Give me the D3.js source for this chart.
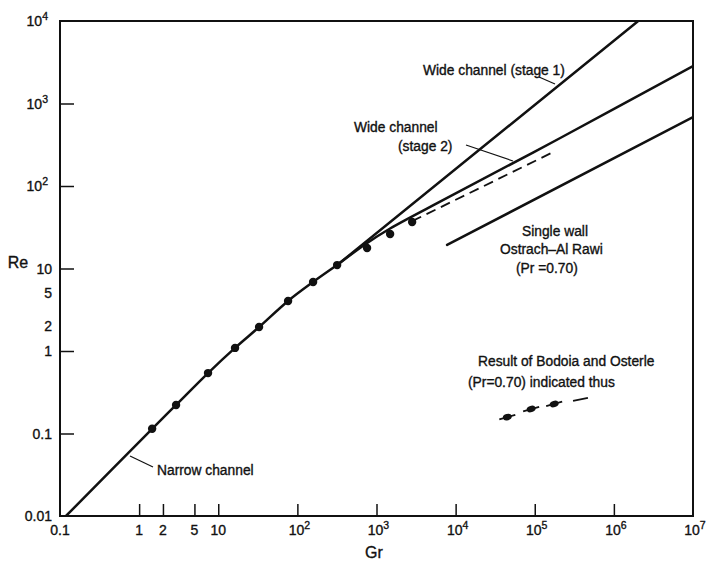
<!DOCTYPE html>
<html>
<head>
<meta charset="utf-8">
<script src="https://cdn.jsdelivr.net/npm/d3@7"></script>
<style>
  body { margin: 0; background: #fff; }
  text { font-family: "Liberation Sans", Arial, sans-serif; fill: #111; stroke: #111; stroke-width: 0.35px; }
</style>
</head>
<body>
<div id="chart"></div>
<script>
// measured points (Gr, Re)
const dotGr = [1.46, 2.93, 7.43, 16.3, 32.8, 76.3, 158, 318, 760, 1486, 2820];
const dotRe = [0.114, 0.222, 0.54, 1.09, 1.95, 4.04, 6.86, 11.0, 17.7, 26.2, 36.6];

// narrow channel curve
const narrowGr = [0.119, 1.46, 2.93, 7.43, 16.3, 32.8, 76.3, 158, 318];
const narrowRe = [0.01, 0.114, 0.222, 0.54, 1.09, 1.95, 4.04, 6.86, 11.0];

// wide channel stage 1 and stage 2
const stage1Gr = [318, 2.03e6];
const stage1Re = [11.0, 1e4];
const stage2Gr = [318, 700, 1486, 7820, 2.1e5, 1e7];
const stage2Re = [11.0, 19.3, 30.5, 71.6, 382, 2850];

// dashed extension past the points
const dashGr = [2820, 1.7e5];
const dashRe = [37.5, 257];

// single wall, Ostrach - Al Rawi
const wallGr = [7800, 1e7];
const wallRe = [19.3, 685];

// Bodoia and Osterle sample
const bodoGr = [4.5e4, 9e4, 1.76e5];
const bodoRe = [0.158, 0.198, 0.228];
const bodoTailGr = [3.05e5, 4.7e5];
const bodoTailRe = [0.248, 0.27];

// axis ticks
const xTicks = [1, 2, 5, 10, 1e2, 1e3, 1e4, 1e5, 1e6];
const xLabels = [[0.1, "0.1"], [1, "1"], [2, "2"], [5, "5"], [10, "10"],
  [1e2, "10", "2"], [1e3, "10", "3"], [1e4, "10", "4"], [1e5, "10", "5"], [1e6, "10", "6"], [1e7, "10", "7"]];
const yTicks = [0.1, 1, 10, 1e2, 1e3];
const yLabels = [[0.01, "0.01"], [0.1, "0.1"], [1, "1"], [2, "2"], [5, "5"], [10, "10"],
  [1e2, "10", "2"], [1e3, "10", "3"], [1e4, "10", "4"]];

const W = 709, H = 561;
const svg = d3.select("#chart").append("svg").attr("width", W).attr("height", H);

const x = d3.scaleLog().domain([0.1, 1e7]).range([60, 693]);
const y = d3.scaleLog().domain([0.01, 1e4]).range([516, 21]);

svg.append("defs").append("clipPath").attr("id", "plot")
  .append("rect").attr("x", 60).attr("y", 21).attr("width", 633).attr("height", 495);

// frame
svg.append("rect").attr("x", 60).attr("y", 21).attr("width", 633).attr("height", 495)
  .attr("fill", "none").attr("stroke", "#111").attr("stroke-width", 2);

// inward ticks
const gx = svg.append("g").attr("transform", "translate(0,516)")
  .call(d3.axisBottom(x).tickValues(xTicks).tickSize(-12).tickFormat(""));
const gy = svg.append("g").attr("transform", "translate(60,0)")
  .call(d3.axisLeft(y).tickValues(yTicks).tickSize(-14).tickFormat(""));
[gx, gy].forEach(g => {
  g.select(".domain").remove();
  g.selectAll(".tick line").attr("stroke", "#111").attr("stroke-width", 1.5);
});

function label(t, l) {
  t.text(l[1]);
  if (l[2]) t.append("tspan").attr("dy", -6).attr("font-size", 10.5).text(l[2]);
}

svg.append("g").selectAll("text").data(xLabels).join("text")
  .attr("x", d => x(d[0]) + (d[2] ? 2 : 0)).attr("y", 535)
  .attr("text-anchor", "middle").attr("font-size", 14)
  .each(function(d) { label(d3.select(this), d); });

svg.append("g").selectAll("text").data(yLabels).join("text")
  .attr("x", d => d[2] ? 48 : 52).attr("y", d => y(d[0]) + 5)
  .attr("text-anchor", "end").attr("font-size", 14)
  .each(function(d) { label(d3.select(this), d); });

svg.append("text").attr("x", 18).attr("y", 268).attr("text-anchor", "middle")
  .attr("font-size", 16).text("Re");
svg.append("text").attr("x", 374).attr("y", 558).attr("text-anchor", "middle")
  .attr("font-size", 16).text("Gr");

const zip = (a, b) => a.map((v, i) => [v, b[i]]);
const line = d3.line().x(d => x(d[0])).y(d => y(d[1]));
const smooth = d3.line().x(d => x(d[0])).y(d => y(d[1])).curve(d3.curveCatmullRom);

const plot = svg.append("g").attr("clip-path", "url(#plot)")
  .attr("fill", "none").attr("stroke", "#111").attr("stroke-linecap", "round");

plot.append("path").attr("d", smooth(zip(narrowGr, narrowRe))).attr("stroke-width", 2.5);
plot.append("path").attr("d", line(zip(stage1Gr, stage1Re))).attr("stroke-width", 2.5);
plot.append("path").attr("d", smooth(zip(stage2Gr, stage2Re))).attr("stroke-width", 2.5);
plot.append("path").attr("d", line(zip(dashGr, dashRe))).attr("stroke-width", 1.8)
  .attr("stroke-dasharray", "10 6").attr("stroke-linecap", "butt");
plot.append("path").attr("d", line(zip(wallGr, wallRe))).attr("stroke-width", 2.5);

svg.append("g").selectAll("circle").data(zip(dotGr, dotRe)).join("circle")
  .attr("cx", d => x(d[0])).attr("cy", d => y(d[1])).attr("r", 4.2).attr("fill", "#111");

// Bodoia and Osterle marks: dot with short dash through it
const bodo = zip(bodoGr, bodoRe);
const slope = (y(bodoRe[2]) - y(bodoRe[0])) / (x(bodoGr[2]) - x(bodoGr[0]));
const bg = svg.append("g").attr("stroke", "#111").attr("stroke-width", 1.8);
bg.selectAll("line").data(bodo).join("line")
  .attr("x1", d => x(d[0]) - 8).attr("y1", d => y(d[1]) - 8 * slope)
  .attr("x2", d => x(d[0]) + 8).attr("y2", d => y(d[1]) + 8 * slope);
bg.append("path").attr("fill", "none").attr("d", line(zip(bodoTailGr, bodoTailRe)));
svg.append("g").selectAll("ellipse").data(bodo).join("ellipse")
  .attr("cx", d => x(d[0])).attr("cy", d => y(d[1])).attr("rx", 4.5).attr("ry", 3.2)
  .attr("transform", d => `rotate(${Math.atan(slope) * 180 / Math.PI},${x(d[0])},${y(d[1])})`)
  .attr("fill", "#111");

// annotations
const notes = [
  [423, 75, "Wide channel (stage 1)"],
  [354, 132, "Wide channel"],
  [398, 151, "(stage 2)"],
  [522, 236, "Single wall"],
  [500, 254, "Ostrach\u2013Al Rawi"],
  [516, 273, "(Pr =0.70)"],
  [478, 366, "Result of Bodoia and Osterle"],
  [468, 387, "(Pr=0.70) indicated thus"],
  [157, 475, "Narrow channel"]
];
svg.append("g").selectAll("text").data(notes).join("text")
  .attr("x", d => d[0]).attr("y", d => d[1]).attr("font-size", 13.8).text(d => d[2]);

const leaders = [
  [539, 77, 555, 84],
  [466, 145, 513, 161],
  [130, 456, 153, 467]
];
svg.append("g").selectAll("line").data(leaders).join("line")
  .attr("x1", d => d[0]).attr("y1", d => d[1]).attr("x2", d => d[2]).attr("y2", d => d[3])
  .attr("stroke", "#111").attr("stroke-width", 1.2);
</script>
</body>
</html>
